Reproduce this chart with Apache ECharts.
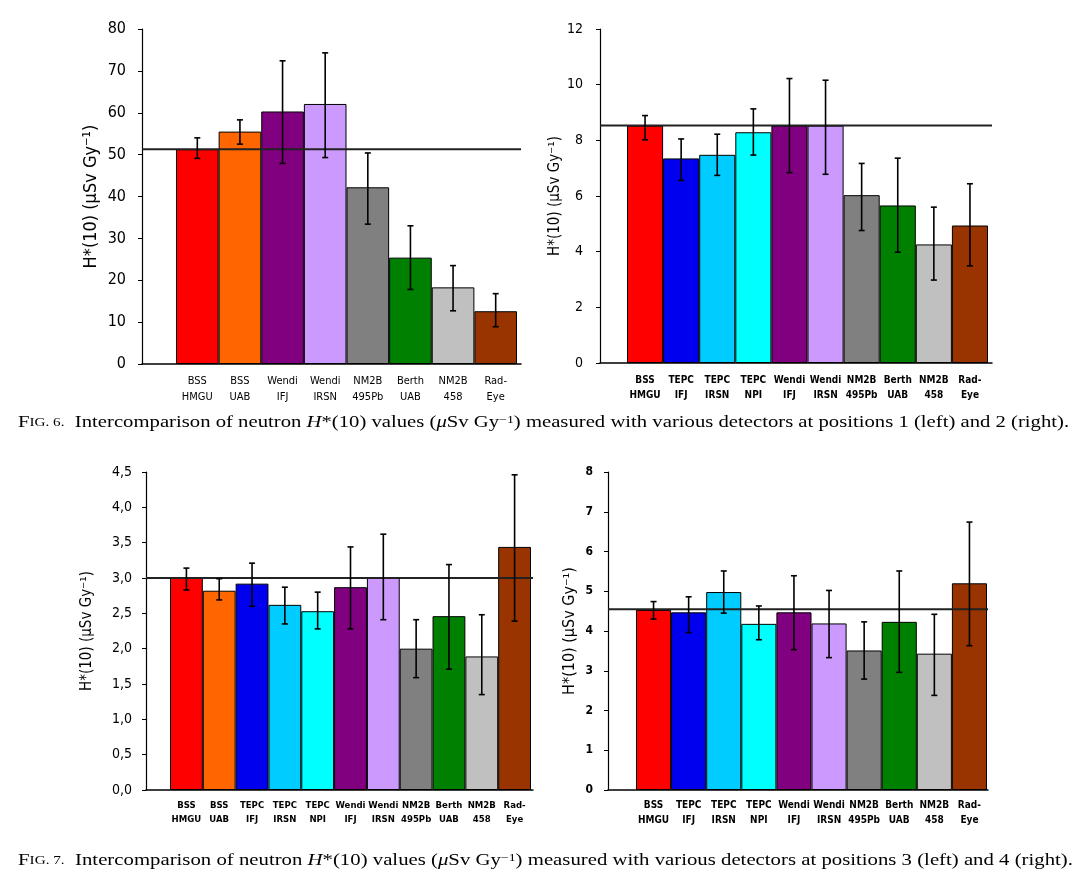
<!DOCTYPE html>
<html><head><meta charset="utf-8">
<script src="https://cdn.jsdelivr.net/npm/echarts@6/dist/echarts.min.js"></script>
<style>html,body{margin:0;padding:0;background:#fff}#c{width:1087px;height:880px}</style>
</head><body><div id="c"></div>
<script>
// ---- Data ----
const cats1 = ['BSS\nHMGU','BSS\nUAB','Wendi\nIFJ','Wendi\nIRSN','NM2B\n495Pb','Berth\nUAB','NM2B\n458','Rad-\nEye'];
const vals1 = [51.3,55.5,60.3,62.1,42.2,25.4,18.3,12.6];
const hi1   = [54.0,58.3,72.4,74.3,50.4,33.0,23.5,16.8];
const lo1   = [49.1,52.5,47.9,49.3,33.4,17.8,12.7,8.9];
const ref1  = 51.3;

const cats2 = ['BSS\nHMGU','TEPC\nIFJ','TEPC\nIRSN','TEPC\nNPI','Wendi\nIFJ','Wendi\nIRSN','NM2B\n495Pb','Berth\nUAB','NM2B\n458','Rad-\nEye'];
const vals2 = [8.53,7.35,7.48,8.29,8.53,8.53,6.03,5.66,4.26,4.94];
const hi2   = [8.89,8.05,8.22,9.13,10.22,10.16,7.17,7.36,5.60,6.44];
const lo2   = [8.02,6.56,6.74,7.47,6.84,6.78,4.76,3.98,2.98,3.49];
const ref2  = 8.53;

const cats3 = ['BSS\nHMGU','BSS\nUAB','TEPC\nIFJ','TEPC\nIRSN','TEPC\nNPI','Wendi\nIFJ','Wendi\nIRSN','NM2B\n495Pb','Berth\nUAB','NM2B\n458','Rad-\nEye'];
const vals3 = [3.00,2.82,2.92,2.62,2.53,2.87,3.00,2.00,2.46,1.89,3.44];
const hi3   = [3.14,2.99,3.21,2.87,2.80,3.44,3.62,2.41,3.19,2.48,4.46];
const lo3   = [2.83,2.69,2.60,2.35,2.28,2.28,2.41,1.59,1.71,1.35,2.39];
const ref3  = 3.00;

const cats4 = ['BSS\nHMGU','TEPC\nIFJ','TEPC\nIRSN','TEPC\nNPI','Wendi\nIFJ','Wendi\nIRSN','NM2B\n495Pb','Berth\nUAB','NM2B\n458','Rad-\nEye'];
const vals4 = [4.53,4.47,4.98,4.18,4.47,4.19,3.51,4.23,3.43,5.20];
const hi4   = [4.74,4.86,5.51,4.63,5.39,5.02,4.23,5.51,4.42,6.74];
const lo4   = [4.30,3.96,4.45,3.78,3.53,3.33,2.79,2.96,2.38,3.63];
const ref4  = 4.55;

const yMax = [80, 12, 4.5, 8];
const yStep = [10, 2, 0.5, 1];

// ---- Styles ----
const C = {red:'#FF0000',orange:'#FF6600',blue:'#0000EE',sky:'#00CCFF',cyan:'#00FFFF',purple:'#800080',lav:'#CC99FF',gray:'#808080',green:'#008000',lgray:'#C0C0C0',brown:'#993300'};
const colors1 = [C.red,C.orange,C.purple,C.lav,C.gray,C.green,C.lgray,C.brown];
const colors2 = [C.red,C.blue,C.sky,C.cyan,C.purple,C.lav,C.gray,C.green,C.lgray,C.brown];
const colors3 = [C.red,C.orange,C.blue,C.sky,C.cyan,C.purple,C.lav,C.gray,C.green,C.lgray,C.brown];
const colors4 = colors2;

const SANS = '"Liberation Sans Narrow","DejaVu Sans Condensed","Liberation Sans",Arial,sans-serif';
const yName = 'H*(10) (\u00B5Sv Gy\u207B\u00B9)';

const panels = [
  {cats:cats1, vals:vals1, hi:hi1, lo:lo1, ref:ref1, colors:colors1,
   L:{axisX:142, barL:176, barR:517, axisR:521, top:29, bottom:364},
   tickFont:16, tickMargin:16, tickBold:'normal', catFont:11, catBold:'normal', nameFont:18, nameGap:42, fmt:v=>String(v), catMargin:9},
  {cats:cats2, vals:vals2, hi:hi2, lo:lo2, ref:ref2, colors:colors2,
   L:{axisX:600, barL:627, barR:988, axisR:992, top:29, bottom:363},
   tickFont:14, tickMargin:17, tickBold:'normal', catFont:10, catBold:'bold', nameFont:15, nameGap:35, fmt:v=>String(v), catMargin:10},
  {cats:cats3, vals:vals3, hi:hi3, lo:lo3, ref:ref3, colors:colors3,
   L:{axisX:146, barL:170, barR:531, axisR:533, top:472, bottom:790},
   tickFont:14, tickMargin:14, tickBold:'normal', catFont:9.5, catBold:'bold', nameFont:15, nameGap:51, fmt:v=>v.toFixed(1).replace('.', ','), catMargin:8},
  {cats:cats4, vals:vals4, hi:hi4, lo:lo4, ref:ref4, colors:colors4,
   L:{axisX:608, barL:636, barR:987, axisR:988, top:472, bottom:790},
   tickFont:12, tickMargin:15, tickBold:'bold', catFont:10, catBold:'bold', nameFont:16, nameGap:30, fmt:v=>String(v), catMargin:8}
];

const option = {animation:false, backgroundColor:'#fff', grid:[], xAxis:[], yAxis:[], series:[], graphic:[]};

panels.forEach((p, k) => {
  const L = p.L, gA = 2*k, gB = 2*k+1;
  option.grid.push({left:L.axisX, top:L.top, width:L.axisR-L.axisX, height:L.bottom-L.top});
  option.grid.push({left:L.barL, top:L.top, width:L.barR-L.barL, height:L.bottom-L.top});
  option.xAxis.push({type:'value', gridIndex:gA, min:0, max:1,
    axisLine:{show:true, onZero:false, lineStyle:{color:'#000', width:1.5}},
    axisTick:{show:false}, axisLabel:{show:false}, splitLine:{show:false}});
  option.yAxis.push({type:'value', gridIndex:gA, min:0, max:yMax[k], interval:yStep[k],
    axisLine:{show:true, lineStyle:{color:'#000', width:1.2}},
    axisTick:{show:true, length:4, lineStyle:{color:'#000'}},
    axisLabel:{color:'#000', fontSize:p.tickFont, fontWeight:p.tickBold, margin:p.tickMargin, fontFamily:SANS, formatter:p.fmt},
    splitLine:{show:false},
    name:yName, nameLocation:'middle', nameGap:p.nameGap,
    nameTextStyle:{color:'#000', fontSize:p.nameFont, fontFamily:SANS}});
  option.xAxis.push({type:'category', gridIndex:gB, data:p.cats,
    axisLine:{show:false}, axisTick:{show:false},
    axisLabel:{interval:0, color:'#000', fontSize:p.catFont, fontWeight:p.catBold, fontFamily:SANS, margin:p.catMargin, lineHeight:p.catFont+5}});
  option.yAxis.push({type:'value', gridIndex:gB, min:0, max:yMax[k], show:false});
  option.series.push({type:'bar', xAxisIndex:gB, yAxisIndex:gB, barCategoryGap:'0%',
    data:p.vals.map((v,i)=>({value:v, itemStyle:{color:p.colors[i]}})),
    itemStyle:{borderColor:'#000', borderWidth:1}, z:2});
  option.series.push({type:'custom', xAxisIndex:gB, yAxisIndex:gB, z:6,
    data:p.cats.map((c,i)=>[i, p.lo[i], p.hi[i]]),
    encode:{x:0, y:[1,2]},
    renderItem:(params, api) => {
      const x = api.value(0);
      const a = api.coord([x, api.value(2)]);
      const b = api.coord([x, api.value(1)]);
      const s = {stroke:'#000', lineWidth:1.6};
      return {type:'group', children:[
        {type:'line', shape:{x1:a[0], y1:a[1], x2:b[0], y2:b[1]}, style:s},
        {type:'line', shape:{x1:a[0]-3, y1:a[1], x2:a[0]+3, y2:a[1]}, style:s},
        {type:'line', shape:{x1:b[0]-3, y1:b[1], x2:b[0]+3, y2:b[1]}, style:s}
      ]};
    }});
  option.series.push({type:'line', xAxisIndex:gA, yAxisIndex:gA, z:5, symbol:'none',
    data:[[0,p.ref],[1,p.ref]], lineStyle:{color:'#222', width:2}});
});

const capRich = {
  scs:{fontFamily:'"Liberation Serif",serif', fontSize:11, color:'#000'},
  it:{fontFamily:'"Liberation Serif",serif', fontStyle:'italic', fontSize:15, color:'#000'},
  sup:{fontFamily:'"Liberation Serif",serif', fontSize:10, color:'#000', verticalAlign:'top'}
};
function caption(n, a, b) {
  return 'F{scs|IG. ' + n + '.}  Intercomparison of neutron {it|H}*(10) values ({it|\u03BC}Sv Gy{sup|\u22121}) measured with various detectors at positions ' + a + ' (left) and ' + b + ' (right).';
}
option.graphic.push({type:'text', x:18, y:415, scaleX:1.38, scaleY:1.05, style:{text:caption(6,1,2), rich:capRich, font:'15px "Liberation Serif", serif', fill:'#000'}});
option.graphic.push({type:'text', x:18, y:853, scaleX:1.385, scaleY:1.05, style:{text:caption(7,3,4), rich:capRich, font:'15px "Liberation Serif", serif', fill:'#000'}});

echarts.init(document.getElementById('c')).setOption(option);
</script></body></html>
